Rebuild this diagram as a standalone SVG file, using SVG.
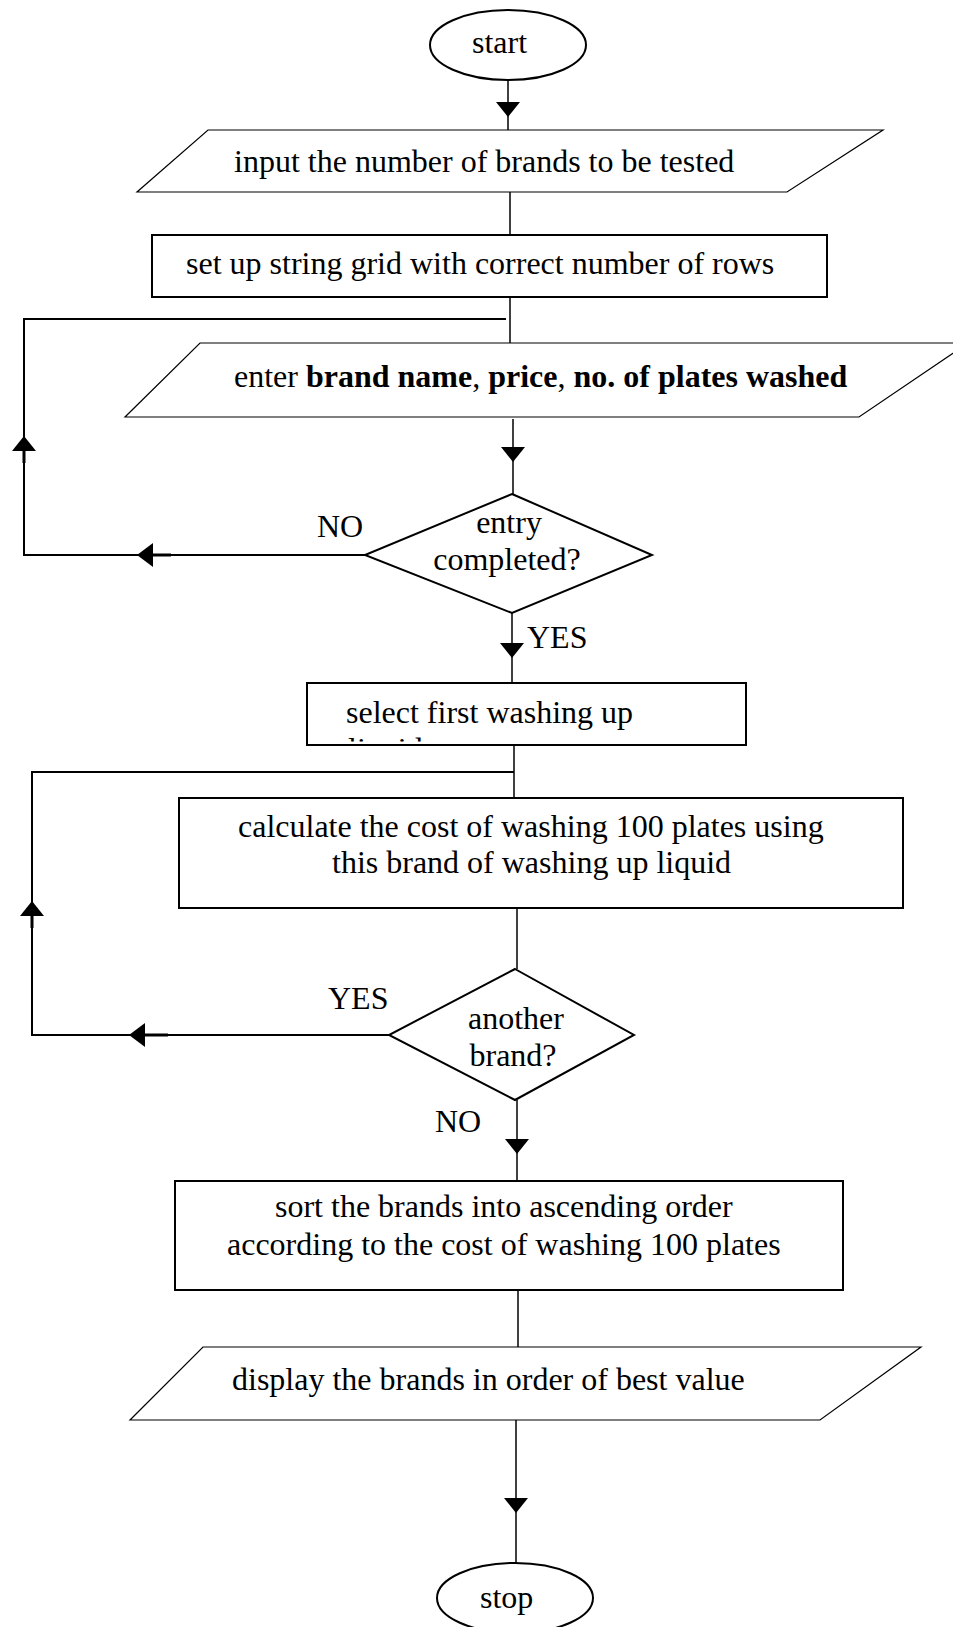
<svg xmlns="http://www.w3.org/2000/svg" width="953" height="1627" viewBox="0 0 953 1627">
<style>
.t{font-family:"Liberation Serif","Times New Roman",serif;font-size:32px;fill:#000}
.b{font-weight:bold}
.m{text-anchor:middle}
.sh{fill:#fff;stroke:#000;stroke-width:2}
.th{fill:#fff;stroke:#000;stroke-width:1.2}
.c{fill:none;stroke:#000;stroke-width:1.5}
.lp{fill:none;stroke:#000;stroke-width:2}
.ah{fill:#000;stroke:none}
</style>
<defs>
<clipPath id="clipLiquid"><rect x="308" y="684" width="437" height="57.5"/></clipPath>
</defs>
<rect x="0" y="0" width="953" height="1627" fill="#fff"/>

<g id="connectors">
<line class="c" x1="508" y1="80" x2="508" y2="130"/>
<polygon class="ah" points="496,102 520,102 508,117"/>
<line class="c" x1="510" y1="192" x2="510" y2="235"/>
<line class="c" x1="510" y1="297" x2="510" y2="344"/>
<polyline class="lp" points="506,319 24,319 24,555 365,555"/>
<polygon class="ah" points="12,451 36,451 24,436"/>
<line x1="24" y1="451" x2="24" y2="463" stroke="#000" stroke-width="3"/>
<polygon class="ah" points="153,543 153,567 137,555"/>
<line x1="153" y1="555" x2="171" y2="555" stroke="#000" stroke-width="3"/>
<line class="c" x1="513" y1="419" x2="513" y2="494"/>
<polygon class="ah" points="501,447 525,447 513,462"/>
<line class="c" x1="512" y1="613" x2="512" y2="683"/>
<polygon class="ah" points="500,643 524,643 512,658"/>
<line class="c" x1="514" y1="745" x2="514" y2="798"/>
<polyline class="lp" points="514,772 32,772 32,1035 389,1035"/>
<polygon class="ah" points="20,916 44,916 32,901"/>
<line x1="32" y1="916" x2="32" y2="928" stroke="#000" stroke-width="3"/>
<polygon class="ah" points="145,1023 145,1047 129,1035"/>
<line x1="145" y1="1035" x2="168" y2="1035" stroke="#000" stroke-width="3"/>
<line class="c" x1="517" y1="908" x2="517" y2="969"/>
<line class="c" x1="517" y1="1100" x2="517" y2="1181"/>
<polygon class="ah" points="505,1139 529,1139 517,1154"/>
<line class="c" x1="518" y1="1290" x2="518" y2="1347"/>
<line class="c" x1="516" y1="1420" x2="516" y2="1563"/>
<polygon class="ah" points="504,1498 528,1498 516,1513"/>
<text class="t" x="317" y="537">NO</text>
<text class="t" x="527" y="648">YES</text>
<text class="t" x="328" y="1009">YES</text>
<text class="t" x="435" y="1132">NO</text>
</g>

<g id="start">
<ellipse class="sh" cx="508" cy="45" rx="78" ry="35"/>
<text class="t" x="472" y="53">start</text>
</g>

<g id="input-brands">
<polygon class="th" points="208,130 883,130 787,192 137,192"/>
<text class="t" x="234" y="172">input the number of brands to be tested</text>
</g>

<g id="setup-grid">
<rect class="sh" x="152" y="235" width="675" height="62"/>
<text class="t" x="186" y="274">set up string grid with correct number of rows</text>
</g>

<g id="enter-data">
<polygon class="th" points="200,343 968,343 859,417 125,417"/>
<text class="t" x="234" y="387">enter <tspan class="b">brand name</tspan>, <tspan class="b">price</tspan>, <tspan class="b">no. of plates washed</tspan></text>
</g>

<g id="entry-completed">
<polygon class="sh" points="512,494 652,555 512,613 365,555"/>
<text class="t m" x="509" y="533">entry</text>
<text class="t m" x="507" y="570">completed?</text>
</g>

<g id="select-first">
<rect class="sh" x="307" y="683" width="439" height="62"/>
<text class="t" x="346" y="723">select first washing up</text>
<text class="t" x="348" y="760" clip-path="url(#clipLiquid)">liquid</text>
</g>

<g id="calculate-cost">
<rect class="sh" x="179" y="798" width="724" height="110"/>
<text class="t" x="238" y="837">calculate the cost of washing 100 plates using</text>
<text class="t" x="332" y="873">this brand of washing up liquid</text>
</g>

<g id="another-brand">
<polygon class="sh" points="515,969 634,1035 515,1100 389,1035"/>
<text class="t m" x="516" y="1029">another</text>
<text class="t m" x="513" y="1066">brand?</text>
</g>

<g id="sort-brands">
<rect class="sh" x="175" y="1181" width="668" height="109"/>
<text class="t" x="275" y="1217">sort the brands into ascending order</text>
<text class="t" x="227" y="1255">according to the cost of washing 100 plates</text>
</g>

<g id="display-brands">
<polygon class="th" points="203,1347 921,1347 820,1420 130,1420"/>
<text class="t" x="232" y="1390">display the brands in order of best value</text>
</g>

<g id="stop">
<ellipse class="sh" cx="515" cy="1598" rx="78" ry="35"/>
<text class="t" x="480" y="1608">stop</text>
</g>
</svg>
